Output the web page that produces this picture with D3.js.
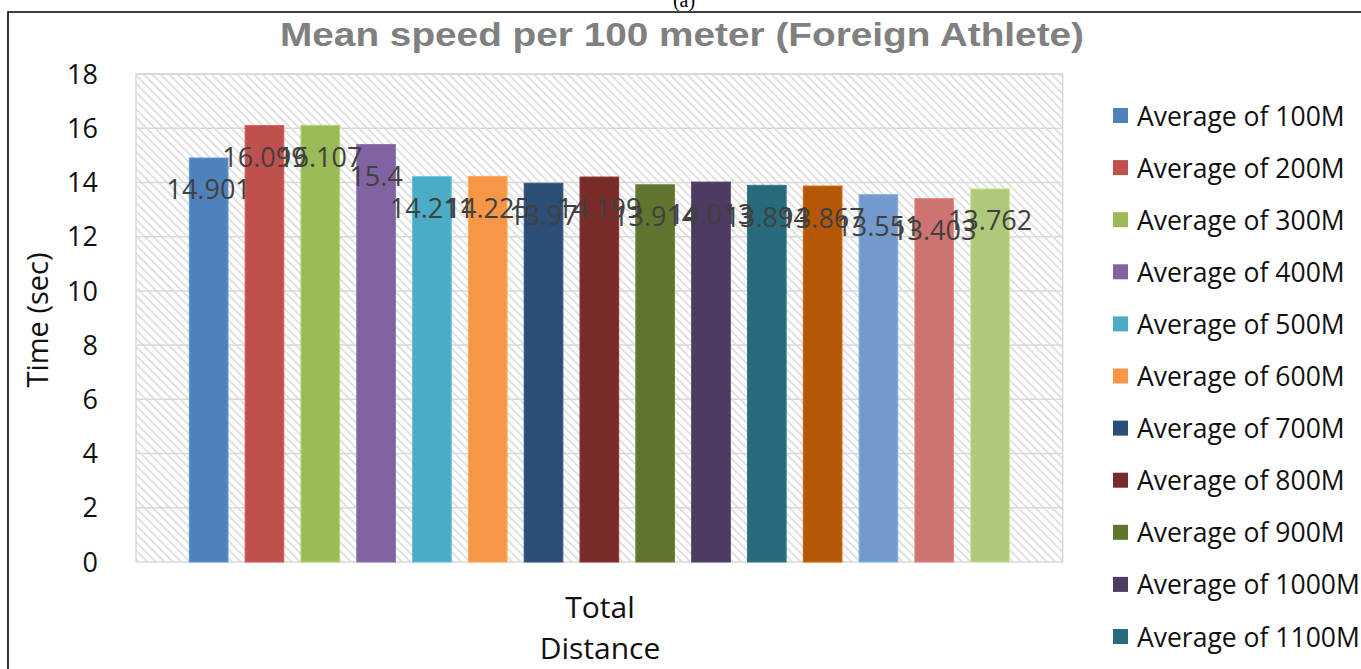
<!DOCTYPE html>
<html>
<head>
<meta charset="utf-8">
<script src="https://cdn.jsdelivr.net/npm/d3@7"></script>
<style>
  html, body { margin: 0; padding: 0; background: #fff; }
  svg { display: block; }
</style>
</head>
<body>
<svg id="chart" width="1361" height="669"></svg>
<script>
// Series names (one bar each, all in the single "Total Distance" group)
const seriesNames = [
  "Average of 100M", "Average of 200M", "Average of 300M", "Average of 400M",
  "Average of 500M", "Average of 600M", "Average of 700M", "Average of 800M",
  "Average of 900M", "Average of 1000M", "Average of 1100M", "Average of 1200M",
  "Average of 1300M", "Average of 1400M", "Average of 1500M"
];
// Mean time (sec) per 100 m segment
const seriesValues = [
  14.901, 16.099, 16.107, 15.4, 14.211, 14.225, 13.97, 14.199,
  13.914, 14.013, 13.894, 13.867, 13.551, 13.403, 13.762
];
const seriesColors = [
  "#4F81BD", "#C0504D", "#9BBB59", "#8064A2", "#4BACC6", "#F79646", "#2C4D75", "#772C2A",
  "#5F7530", "#4D3B62", "#276A7C", "#B65708", "#729ACA", "#CD7371", "#AFC97A"
];
const yTicks = [0, 2, 4, 6, 8, 10, 12, 14, 16, 18];

const W = 1361, H = 669;
const svg = d3.select("#chart");

// Plot area
const plot = { left: 136, top: 74, right: 1062.7, bottom: 562 };

const x = d3.scaleBand()
  .domain(seriesNames)
  .range([plot.left, plot.right])
  .paddingInner(0.307)
  .paddingOuter(0.955);

const y = d3.scaleLinear()
  .domain([0, 18])
  .range([plot.bottom, plot.top]);

// Wide downward-diagonal hatch for the plot background
const defs = svg.append("defs");
const pat = defs.append("pattern")
  .attr("id", "hatch")
  .attr("patternUnits", "userSpaceOnUse")
  .attr("width", 6)
  .attr("height", 6)
  .attr("patternTransform", "rotate(-45)");
pat.append("rect").attr("width", 6).attr("height", 6).attr("fill", "#ffffff");
pat.append("line")
  .attr("x1", 1).attr("y1", 0).attr("x2", 1).attr("y2", 6)
  .attr("stroke", "#dcdcdc")
  .attr("stroke-width", 1.7);

// Outer frame
svg.append("path")
  .attr("d", `M8,${H} L8,12 L${W},12`)
  .attr("fill", "none")
  .attr("stroke", "#000")
  .attr("stroke-width", 1.6);

// Caption above the frame
svg.append("text")
  .attr("x", 684)
  .attr("y", 7)
  .attr("text-anchor", "middle")
  .attr("font-family", "Liberation Serif, serif")
  .attr("font-size", 20)
  .attr("fill", "#000")
  .text("(a)");

// Title
svg.append("text")
  .attr("x", 682)
  .attr("y", 46)
  .attr("text-anchor", "middle")
  .attr("font-family", "Liberation Sans, Arial, sans-serif")
  .attr("font-weight", "bold")
  .attr("font-size", 34)
  .attr("fill", "#808080")
  .attr("textLength", 804)
  .attr("lengthAdjust", "spacingAndGlyphs")
  .text("Mean speed per 100 meter (Foreign Athlete)");

// Plot background + border
svg.append("rect")
  .attr("x", plot.left)
  .attr("y", plot.top)
  .attr("width", plot.right - plot.left)
  .attr("height", plot.bottom - plot.top)
  .attr("fill", "url(#hatch)")
  .attr("stroke", "#d9d9d9")
  .attr("stroke-width", 1.5);

// Horizontal gridlines
svg.append("g")
  .selectAll("line")
  .data(yTicks.filter(t => t > 0))
  .join("line")
  .attr("x1", plot.left)
  .attr("x2", plot.right)
  .attr("y1", d => y(d))
  .attr("y2", d => y(d))
  .attr("stroke", "#d9d9d9")
  .attr("stroke-width", 1.5);

const textFont = "Open Sans, sans-serif";
const textColor = "#111";

// Y axis tick labels
const yAxis = d3.axisLeft(y).tickValues(yTicks).tickSize(0).tickPadding(0).tickFormat(d3.format("d"));
const yAxisG = svg.append("g")
  .attr("transform", "translate(98,0)")
  .call(yAxis);
yAxisG.select(".domain").remove();
yAxisG.selectAll("text")
  .attr("font-family", textFont)
  .attr("font-size", 27)
  .attr("fill", textColor)
  .attr("dy", "0.34em");

// Y axis title
svg.append("text")
  .attr("transform", "translate(48,320) rotate(-90)")
  .attr("text-anchor", "middle")
  .attr("font-family", textFont)
  .attr("font-size", 29)
  .attr("fill", textColor)
  .text("Time (sec)");

// Bars
svg.append("g")
  .selectAll("rect")
  .data(seriesNames)
  .join("rect")
  .attr("x", d => x(d))
  .attr("width", x.bandwidth())
  .attr("y", (d, i) => y(seriesValues[i]))
  .attr("height", (d, i) => y(0) - y(seriesValues[i]))
  .attr("fill", (d, i) => seriesColors[i])
  .attr("stroke", (d, i) => d3.color(seriesColors[i]).brighter(0.4))
  .attr("stroke-width", 1);

// Value labels
svg.append("g")
  .selectAll("text")
  .data(seriesNames)
  .join("text")
  .attr("x", d => x(d) + x.bandwidth() / 2)
  .attr("y", (d, i) => y(seriesValues[i]) + 32)
  .attr("dy", "0.35em")
  .attr("text-anchor", "middle")
  .attr("font-family", textFont)
  .attr("font-size", 27)
  .attr("fill", "#404040")
  .text((d, i) => String(seriesValues[i]));

// X axis category label
const xLabel = svg.append("text")
  .attr("text-anchor", "middle")
  .attr("font-family", textFont)
  .attr("font-size", 30)
  .attr("fill", textColor);
xLabel.append("tspan").attr("x", 600).attr("y", 618).text("Total");
xLabel.append("tspan").attr("x", 600).attr("y", 659).text("Distance");

// Legend (rows continue down past the bottom edge of the frame)
const legendTop = 116, legendRow = 52.1;
const legendNames = seriesNames.filter((d, i) => legendTop + i * legendRow + 14 < H);
const items = svg.append("g")
  .selectAll("g")
  .data(legendNames)
  .join("g")
  .attr("transform", (d, i) => `translate(1113,${legendTop + i * legendRow})`);
items.append("rect")
  .attr("x", 0)
  .attr("y", -8)
  .attr("width", 15)
  .attr("height", 15)
  .attr("fill", (d, i) => seriesColors[i]);
items.append("text")
  .attr("x", 24)
  .attr("y", 0)
  .attr("dy", "0.36em")
  .attr("font-family", textFont)
  .attr("font-size", 26.5)
  .attr("fill", textColor)
  .text(d => d);
</script>
</body>
</html>
